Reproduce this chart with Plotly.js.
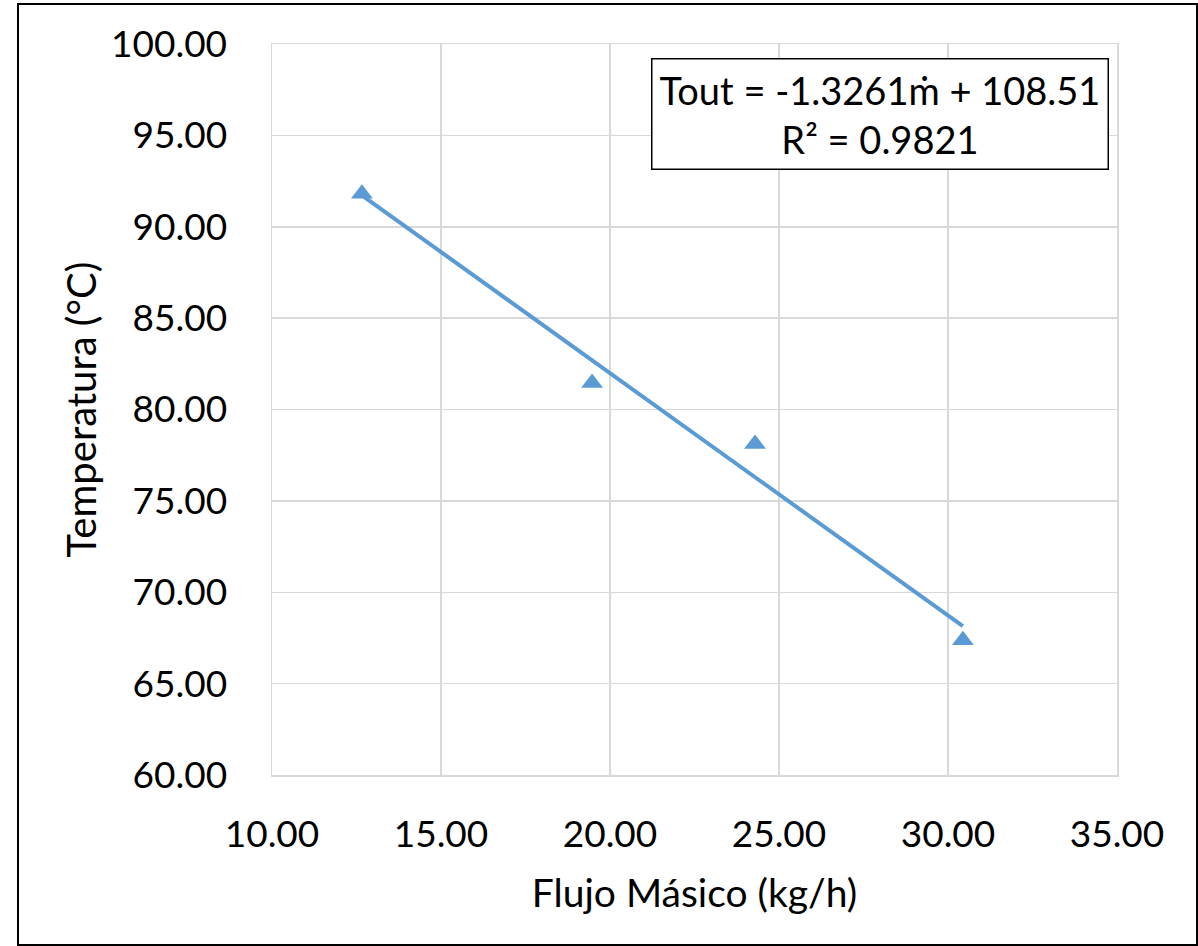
<!DOCTYPE html>
<html>
<head>
<meta charset="utf-8">
<script src="https://cdn.plot.ly/plotly-3.0.1.min.js"></script>
<style>
html,body{margin:0;padding:0;background:#fff;}
#chart{width:1198px;height:946px;}
</style>
</head>
<body>
<div id="chart"></div>
<script>
// Data
const flujo = [12.66, 19.47, 24.29, 30.44];        // kg/h
const temperatura = [91.80, 81.45, 78.11, 67.38];   // °C
const slope = -1.3261;
const intercept = 108.51;
const rSquared = 0.9821;
const xTicks = [10, 15, 20, 25, 30, 35];
const yTicks = [60, 65, 70, 75, 80, 85, 90, 95, 100];

const xMin = Math.min(...flujo), xMax = Math.max(...flujo);
const trendX = [xMin, xMax];
const trendY = trendX.map(x => slope * x + intercept);

const FONT = 'Lato, "Open Sans", sans-serif';
const blue = '#5b9bd5';

const traces = [
  {x: trendX, y: trendY, mode: 'lines', type: 'scatter',
   line: {color: blue, width: 4}, hoverinfo: 'skip'},
  {x: flujo, y: temperatura, mode: 'markers', type: 'scatter',
   marker: {symbol: 'triangle-up', size: 19, color: blue}}
];

const layout = {
  width: 1198, height: 946,
  margin: {l: 272, r: 81, t: 44, b: 171},
  paper_bgcolor: '#fff', plot_bgcolor: '#fff',
  showlegend: false,
  font: {family: FONT, size: 37, color: '#000'},
  xaxis: {
    range: [10, 35], tickvals: xTicks, ticktext: xTicks.map(v => v.toFixed(2)),
    showgrid: true, gridcolor: '#d9d9d9', gridwidth: 1.5,
    showline: true, linecolor: '#d9d9d9', linewidth: 1.5, mirror: true,
    zeroline: false, ticks: '', ticklabelstandoff: 26,
    title: {text: 'Flujo Másico (kg/h)', font: {family: FONT, size: 39}, standoff: 26}
  },
  yaxis: {
    range: [60, 100], tickvals: yTicks, ticktext: yTicks.map(v => v.toFixed(2)),
    showgrid: true, gridcolor: '#d9d9d9', gridwidth: 1.5,
    showline: true, linecolor: '#d9d9d9', linewidth: 1.5, mirror: true,
    zeroline: false, ticks: '', ticklabelstandoff: 36,
    title: {text: 'Temperatura (°C)', font: {family: FONT, size: 40}, standoff: 2}
  },
  annotations: [{
    xref: 'paper', yref: 'paper', x: 0.9905, y: 0.9815, xanchor: 'right', yanchor: 'top',
    text: 'Tout = ' + slope.toFixed(4) + 'ṁ + ' + intercept.toFixed(2) + '<br>R² = ' + rSquared.toFixed(4),
    showarrow: false, align: 'center',
    font: {family: FONT, size: 38, color: '#000'},
    bordercolor: '#000', borderwidth: 1.5, borderpad: 7, bgcolor: '#fff'
  }],
  shapes: [{
    type: 'rect', xref: 'paper', yref: 'paper',
    x0: -0.3006, x1: 1.0947, y0: -0.2325, y1: 1.0547,
    line: {color: '#000', width: 2}, fillcolor: 'rgba(0,0,0,0)', layer: 'above'
  }]
};

Plotly.newPlot('chart', traces, layout, {displayModeBar: false, staticPlot: true});
</script>
</body>
</html>
